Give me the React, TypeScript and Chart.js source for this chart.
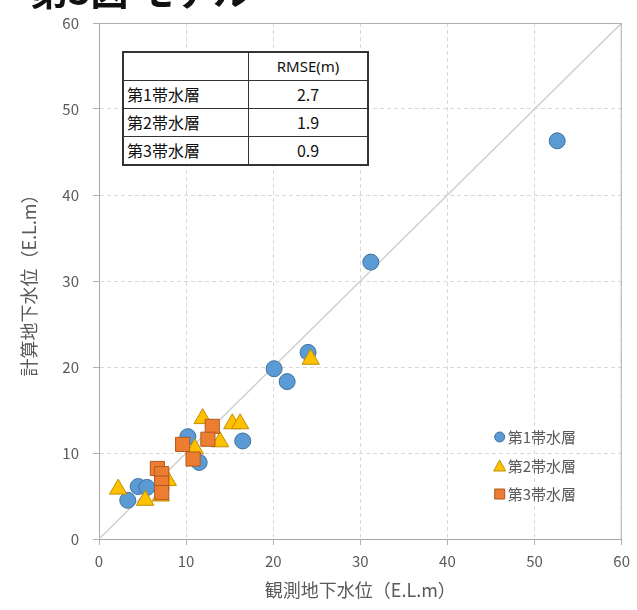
import React, { useEffect, useRef } from "react";
import { Chart, registerables } from "chart.js";

Chart.register(...registerables);

const seriesNames = ["第1帯水層", "第2帯水層", "第3帯水層"];
const blueX = [52.6, 31.2, 24.0, 20.1, 21.6, 16.5, 10.2, 11.5, 4.5, 5.5, 3.3];
const blueY = [46.3, 32.2, 21.7, 19.8, 18.3, 11.4, 11.9, 8.9, 6.1, 6.0, 4.5];
const yellowX = [24.3, 11.9, 15.3, 16.2, 13.9, 11.0, 7.9, 2.2, 5.3, 7.1];
const yellowY = [20.9, 14.0, 13.4, 13.4, 11.3, 10.5, 6.8, 5.8, 4.5, 5.0];
const orangeX = [13.0, 12.5, 9.6, 10.8, 6.7, 7.2, 7.2, 7.2];
const orangeY = [13.1, 11.6, 11.0, 9.3, 8.2, 7.6, 6.5, 5.4];
const lineX = [0, 60];
const lineY = [0, 60];
const tableHeader = "RMSE(m)";
const rmseValues = ["2.7", "1.9", "0.9"];
const xTitle = "観測地下水位（E.L.m）";
const yTitle = "計算地下水位（E.L.m）";
const chartTitle = "第3図 モデル";

const colors = [
  { fill: "#5B9BD5", border: "#41719C" },
  { fill: "#FFC000", border: "#BF9000" },
  { fill: "#ED7D31", border: "#AE5A21" },
];
const styles = ["circle", "triangle", "rect"];
const radii = [8, 10, 10];

const toPts = (xs: number[], ys: number[]) => xs.map((x, i) => ({ x, y: ys[i] }));

const frameLegendPlugin = {
  id: "frameLegend",
  afterDatasetsDraw(chart: any) {
    const { ctx, chartArea } = chart;
    ctx.save();
    ctx.strokeStyle = "#b0b0b0";
    ctx.lineWidth = 1;
    ctx.beginPath();
    ctx.moveTo(chartArea.left, chartArea.top + 0.5);
    ctx.lineTo(chartArea.right, chartArea.top + 0.5);
    ctx.moveTo(chartArea.right - 0.5, chartArea.top);
    ctx.lineTo(chartArea.right - 0.5, chartArea.bottom);
    ctx.stroke();
    // legend
    const mx = chartArea.right - 122;
    const rows = [chartArea.bottom - 102, chartArea.bottom - 73, chartArea.bottom - 45];
    ctx.font = '15px "Noto Sans CJK JP"';
    ctx.textBaseline = "middle";
    ctx.textAlign = "left";
    rows.forEach((yy, i) => {
      ctx.fillStyle = colors[i].fill;
      ctx.strokeStyle = colors[i].border;
      ctx.lineWidth = 1;
      ctx.beginPath();
      if (i === 0) {
        ctx.arc(mx, yy, 5, 0, Math.PI * 2);
      } else if (i === 1) {
        ctx.moveTo(mx, yy - 6);
        ctx.lineTo(mx + 6, yy + 5);
        ctx.lineTo(mx - 6, yy + 5);
        ctx.closePath();
      } else {
        ctx.rect(mx - 5, yy - 5, 10, 10);
      }
      ctx.fill();
      ctx.stroke();
      ctx.fillStyle = "#595959";
      ctx.fillText(seriesNames[i], mx + 8, yy);
    });
    ctx.restore();
  },
};

export default function App() {
  const ref = useRef<HTMLCanvasElement>(null);
  useEffect(() => {
    if (!ref.current) return;
    const series = [toPts(blueX, blueY), toPts(yellowX, yellowY), toPts(orangeX, orangeY)];
    const datasets: any[] = series.map((data, i) => ({
      label: seriesNames[i],
      data,
      backgroundColor: colors[i].fill,
      borderColor: colors[i].border,
      borderWidth: 1,
      pointStyle: styles[i],
      pointRadius: radii[i],
      order: 3 - i,
    }));
    datasets.push({
      type: "line",
      label: "1:1",
      data: toPts(lineX, lineY),
      borderColor: "#d0d0d0",
      borderWidth: 1.5,
      pointRadius: 0,
      showLine: true,
      order: 10,
    });
    const tickFont = { family: '"Noto Sans CJK JP", sans-serif', size: 15 };
    const titleFont = { family: '"Noto Sans CJK JP", sans-serif', size: 18 };
    const chart = new Chart(ref.current, {
      type: "scatter",
      data: { datasets },
      plugins: [frameLegendPlugin],
      options: {
        animation: false,
        responsive: false,
        devicePixelRatio: 1,
        layout: { padding: { top: 15, right: 15, left: 0, bottom: 0 } },
        plugins: { legend: { display: false }, tooltip: { enabled: false } },
        scales: {
          x: {
            type: "linear",
            min: 0,
            max: 60,
            ticks: { stepSize: 10, color: "#595959", font: tickFont, padding: 7 },
            grid: { color: "#d9d9d9", tickLength: 6, tickColor: "#b0b0b0" },
            border: { display: true, color: "#a6a6a6", dash: [4, 3], width: 1 },
            title: { display: true, text: xTitle, color: "#595959", font: titleFont, padding: { top: 0, bottom: 9 } },
            afterFit: (s: any) => { s.height = 71; },
          } as any,
          y: {
            type: "linear",
            min: 0,
            max: 60,
            ticks: { stepSize: 10, color: "#595959", font: tickFont, padding: 14 },
            grid: { color: "#d9d9d9", tickLength: 6, tickColor: "#b0b0b0" },
            border: { display: true, color: "#a6a6a6", dash: [4, 3], width: 1 },
            title: { display: true, text: yTitle, color: "#595959", font: titleFont, padding: { top: 18, bottom: 0 } },
            afterFit: (s: any) => { s.width = 99; },
          } as any,
        },
      },
    });
    return () => chart.destroy();
  }, []);

  const cell: React.CSSProperties = {
    border: "1.5px solid #333",
    padding: 0,
    height: 27,
    fontFamily: '"Noto Sans CJK JP", sans-serif',
    fontSize: 16,
    color: "#111",
    lineHeight: "27px",
  };

  return (
    <div style={{ position: "absolute", left: 0, top: 0, width: 637, height: 610, background: "#fff", overflow: "hidden" }}>
      <canvas ref={ref} width={637} height={610} style={{ position: "absolute", left: 0, top: 0, width: 637, height: 610 }} />
      <div
        style={{
          position: "absolute",
          left: 30,
          top: -30,
          fontFamily: '"Noto Sans CJK JP", sans-serif',
          fontWeight: 700,
          fontSize: 38,
          lineHeight: "38px",
          color: "#111",
          whiteSpace: "nowrap",
        }}
      >
        {chartTitle}
      </div>
      <table
        style={{
          position: "absolute",
          left: 122,
          top: 51,
          width: 247,
          borderCollapse: "collapse",
          border: "2px solid #333",
          background: "#fff",
        }}
      >
        <tbody>
          <tr>
            <td style={{ ...cell, width: 124 }}></td>
            <td style={{ ...cell, textAlign: "center", fontSize: 15, fontFamily: '"Liberation Sans Narrow", "Noto Sans", sans-serif' }}>{tableHeader}</td>
          </tr>
          {seriesNames.map((n, i) => (
            <tr key={n}>
              <td style={{ ...cell, paddingLeft: 3 }}>{n}</td>
              <td style={{ ...cell, textAlign: "center" }}>{rmseValues[i]}</td>
            </tr>
          ))}
        </tbody>
      </table>
    </div>
  );
}
